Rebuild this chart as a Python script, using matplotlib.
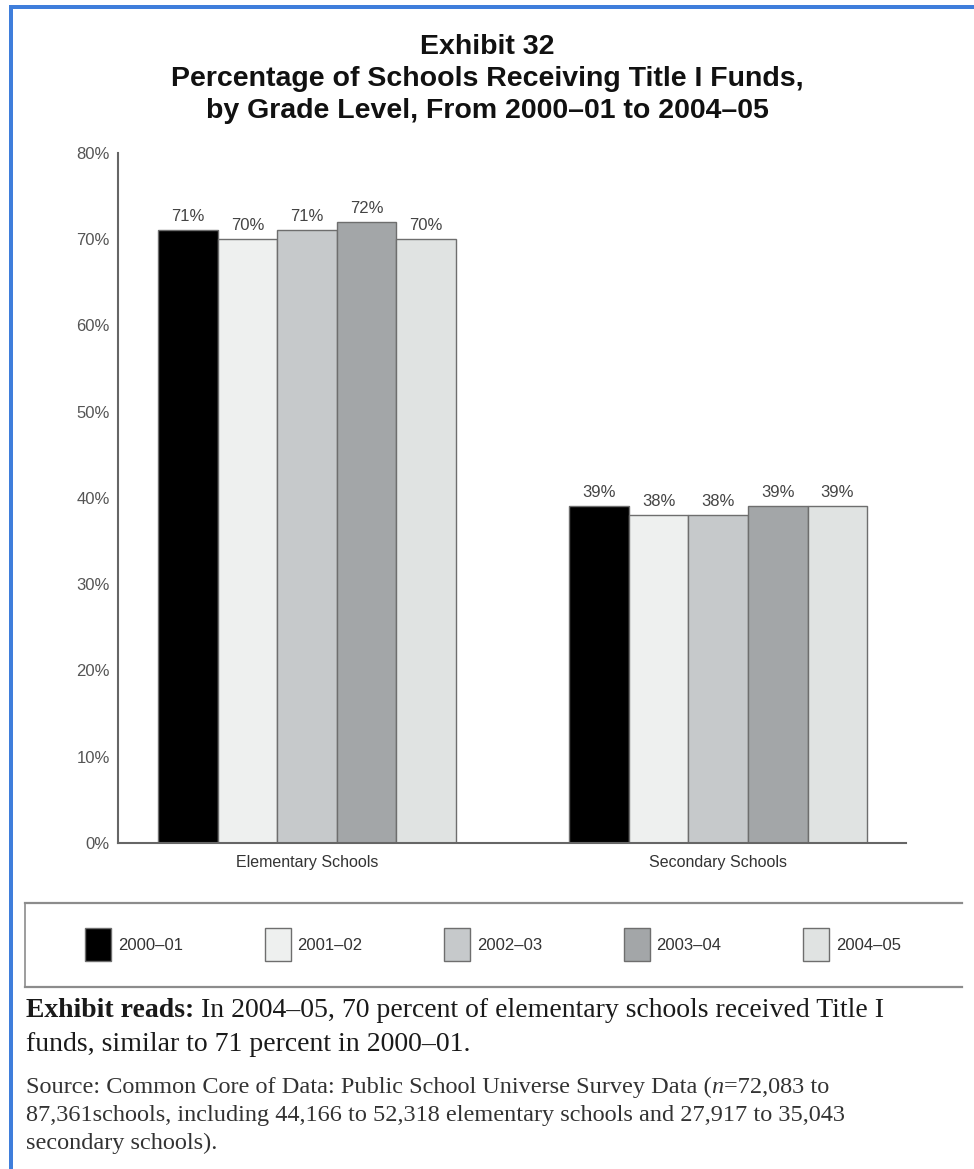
import matplotlib
matplotlib.use("Agg")
import matplotlib.pyplot as plt
from matplotlib.patches import Rectangle
from matplotlib.lines import Line2D
import numpy as np

# ---------------- data ----------------
categories = ["Elementary Schools", "Secondary Schools"]
years = ["2000–01", "2001–02", "2002–03", "2003–04", "2004–05"]
elementary = [71, 70, 71, 72, 70]
secondary = [39, 38, 38, 39, 39]
yticks = [0, 10, 20, 30, 40, 50, 60, 70, 80]
ytick_labels = ["0%", "10%", "20%", "30%", "40%", "50%", "60%", "70%", "80%"]

title_lines = ["Exhibit 32",
               "Percentage of Schools Receiving Title I Funds,",
               "by Grade Level, From 2000–01 to 2004–05"]

# ---------------- style ----------------
W, H = 974, 1169
colors = ["#000000", "#eef0ef", "#c6c9cb", "#a3a6a8", "#e0e3e2"]
edge = "#6e6e6e"
SANS = ["Liberation Sans", "DejaVu Sans"]
TITLE_FONT = ["Liberation Sans", "DejaVu Sans"]
SERIF = ["Liberation Serif", "DejaVu Serif"]

fig = plt.figure(figsize=(W / 100, H / 100), dpi=100)
fig.patch.set_facecolor("white")


def fx(x):
    return x / W


def fy(y):
    return 1 - y / H


# blue frame (top and left)
fig.add_artist(Rectangle((fx(9), fy(H)), 4 / W, (H - 5) / H, transform=fig.transFigure,
                         facecolor="#3f7edb", edgecolor="none"))
fig.add_artist(Rectangle((fx(9), fy(9)), (W - 9) / W, 4 / H, transform=fig.transFigure,
                         facecolor="#3f7edb", edgecolor="none"))

# title
for i, line in enumerate(title_lines):
    fig.text(0.5, fy(47.5 + i * 31.5), line, ha="center", va="center",
             fontsize=20.5, fontweight="bold", family=TITLE_FONT, color="#111111")

# ---------------- axes ----------------
ax = fig.add_axes([fx(118), fy(843), fx(906) - fx(118), fy(152.6) - fy(843)])
data = np.array([elementary, secondary]).T  # rows: years
x = np.arange(len(categories))
w = 0.145
for i, (yr, vals) in enumerate(zip(years, data)):
    pos = x + (i - 2) * w
    ax.bar(pos, vals, width=w, color=colors[i], edgecolor=edge, linewidth=1.0, label=yr)
    for px_, v in zip(pos, vals):
        ax.text(px_, v + 0.7, f"{v}%", ha="center", va="bottom", fontsize=12,
                color="#444444", family=SANS)

ax.set_xlim(-0.46, 1.457)
ax.set_ylim(0, 80)
ax.set_yticks(yticks)
ax.set_yticklabels(ytick_labels, family=SANS)
ax.set_xticks(x)
ax.set_xticklabels(categories, family=SANS)
ax.tick_params(axis="y", length=0, pad=6, labelcolor="#555555", labelsize=12)
ax.tick_params(axis="x", length=0, pad=9, labelcolor="#333333", labelsize=11.5)
for s in ["top", "right"]:
    ax.spines[s].set_visible(False)
for s in ["left", "bottom"]:
    ax.spines[s].set_color("#666666")
    ax.spines[s].set_linewidth(1.5)

# ---------------- legend box ----------------
lc = "#8c8c8c"
fig.add_artist(Line2D([fx(25), fx(962)], [fy(903), fy(903)], color=lc, lw=1.6,
                      transform=fig.transFigure))
fig.add_artist(Line2D([fx(25), fx(962)], [fy(987), fy(987)], color=lc, lw=1.6,
                      transform=fig.transFigure))
fig.add_artist(Line2D([fx(25), fx(25)], [fy(903), fy(987)], color=lc, lw=1.2,
                      transform=fig.transFigure))
for i, yr in enumerate(years):
    lx = 85 + i * 179.5
    fig.add_artist(Rectangle((fx(lx), fy(961)), 26 / W, 33 / H, transform=fig.transFigure,
                             facecolor=colors[i], edgecolor=edge, linewidth=1.0))
    fig.text(fx(lx + 33), fy(945), yr, ha="left", va="center", fontsize=12,
             family=SANS, color="#333333")

# ---------------- notes ----------------
fig.canvas.draw()
renderer = fig.canvas.get_renderer()


def runs(x0, y0, parts, size, color):
    xx = x0
    for s, kw in parts:
        t = fig.text(fx(xx), fy(y0), s, ha="left", va="baseline", fontsize=size,
                     family=SERIF, color=color, **kw)
        bb = t.get_window_extent(renderer=renderer)
        xx += bb.width


runs(26, 1017, [("Exhibit reads:", {"fontweight": "bold"}),
                (" In 2004–05, 70 percent of elementary schools received Title I", {})],
     20, "#1a1a1a")
runs(26, 1051, [("funds, similar to 71 percent in 2000–01.", {})], 20, "#1a1a1a")
runs(26, 1093, [("Source: Common Core of Data: Public School Universe Survey Data (", {}),
                ("n", {"style": "italic"}),
                ("=72,083 to", {})], 17.5, "#333333")
runs(26, 1121, [("87,361schools, including 44,166 to 52,318 elementary schools and 27,917 to 35,043", {})],
     17.5, "#333333")
runs(26, 1149, [("secondary schools).", {})], 17.5, "#333333")

fig.savefig("out.png", dpi=100, facecolor="white")
